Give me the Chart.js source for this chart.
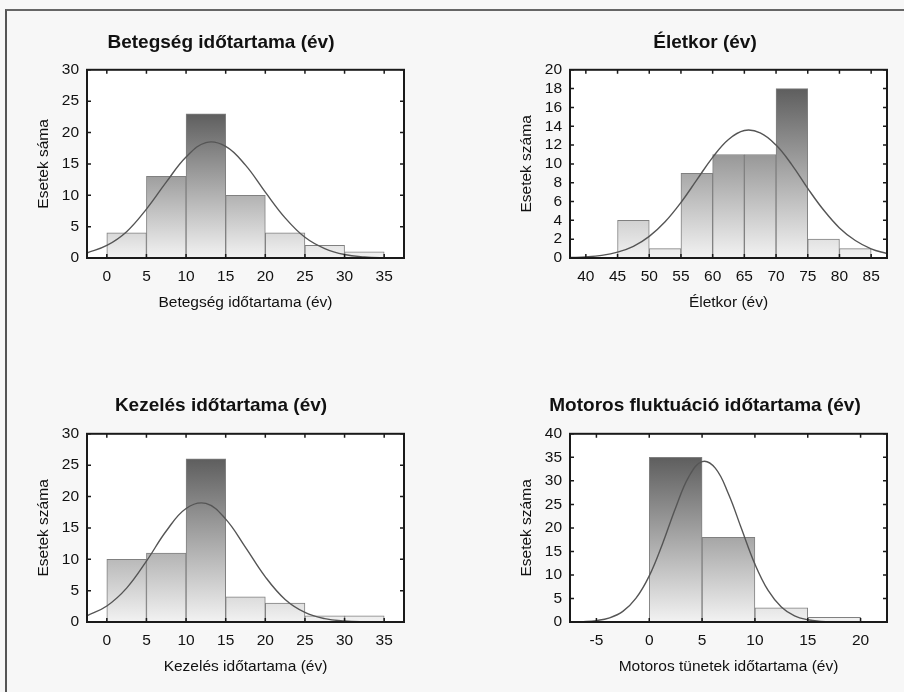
<!DOCTYPE html>
<html>
<head>
<meta charset="utf-8">
<script src="https://cdn.jsdelivr.net/npm/chart.js@4"></script>
<style>
  html, body { margin: 0; padding: 0; background: #f7f7f7; }
  #frame { position: absolute; left: 5px; top: 9px; width: 900px; height: 700px; border-top: 2px solid #666; border-left: 2px solid #555; }
  .cell { position: absolute; width: 452px; height: 346px; }
</style>
</head>
<body>
<div id="frame"></div>
<div class="cell" style="left:0;top:0"><canvas id="c1" width="452" height="346"></canvas></div>
<div class="cell" style="left:452px;top:0"><canvas id="c2" width="452" height="346"></canvas></div>
<div class="cell" style="left:0;top:346px"><canvas id="c3" width="452" height="346"></canvas></div>
<div class="cell" style="left:452px;top:346px"><canvas id="c4" width="452" height="346"></canvas></div>
<script>
// bin lower edges (width 5) and counts
const betegsegBins = [0, 5, 10, 15, 20, 25, 30];
const betegsegCounts = [4, 13, 23, 10, 4, 2, 1];
const betegsegCurveX = [-2.5, 0, 2.5, 5, 7.5, 10, 12.5, 15, 17.5, 20, 22.5, 25, 27.5, 30, 32.5, 35, 37.5];
const betegsegCurveY = [0.8, 2.0, 4.2, 7.8, 12.1, 16.1, 18.4, 17.8, 14.8, 10.5, 6.4, 3.3, 1.5, 0.55, 0.18, 0.05, 0.01];

const eletkorBins = [45, 50, 55, 60, 65, 70, 75, 80];
const eletkorCounts = [4, 1, 9, 11, 11, 18, 2, 1];
const eletkorCurveX = [37.5, 40, 42.5, 45, 47.5, 50, 52.5, 55, 57.5, 60, 62.5, 65, 67.5, 70, 72.5, 75, 77.5, 80, 82.5, 85, 87.5];
const eletkorCurveY = [0.05, 0.12, 0.28, 0.62, 1.24, 2.3, 3.85, 5.9, 8.3, 10.7, 12.6, 13.55, 13.3, 12.0, 9.9, 7.4, 5.1, 3.2, 1.86, 0.98, 0.47];

const kezelesBins = [0, 5, 10, 15, 20, 25, 30];
const kezelesCounts = [10, 11, 26, 4, 3, 1, 1];
const kezelesCurveX = [-2.5, 0, 2.5, 5, 7.5, 10, 12.5, 15, 17.5, 20, 22.5, 25, 27.5, 30, 32.5, 35, 37.5];
const kezelesCurveY = [0.99, 2.55, 5.4, 9.7, 14.5, 18.1, 18.9, 16.4, 11.9, 7.2, 3.6, 1.53, 0.54, 0.16, 0.04, 0.01, 0];

const motorosBins = [0, 5, 10, 15];
const motorosCounts = [35, 18, 3, 1];
const motorosCurveX = [-7.5, -6.25, -5, -3.75, -2.5, -1.25, 0, 1.25, 2.5, 3.75, 5, 6.25, 7.5, 8.75, 10, 11.25, 12.5, 13.75, 15, 16.25, 17.5, 18.75, 20, 21.25, 22.5];
const motorosCurveY = [0.02, 0.09, 0.3, 0.88, 2.25, 5.06, 9.8, 16.6, 24.3, 30.9, 34.1, 32.7, 27.2, 19.7, 12.3, 6.7, 3.2, 1.3, 0.47, 0.14, 0.04, 0.01, 0, 0, 0];

// tick labels
const durXTicks = [0, 5, 10, 15, 20, 25, 30, 35];
const ageXTicks = [40, 45, 50, 55, 60, 65, 70, 75, 80, 85];
const motXTicks = [-5, 0, 5, 10, 15, 20];
const y30Ticks = [0, 5, 10, 15, 20, 25, 30];
const y20Ticks = [0, 2, 4, 6, 8, 10, 12, 14, 16, 18, 20];
const y40Ticks = [0, 5, 10, 15, 20, 25, 30, 35, 40];

const FONT = "'Liberation Sans', Arial, sans-serif";
Chart.defaults.font.family = FONT;
Chart.defaults.color = '#111';

// white plot background, black frame and inward ticks on all four sides
const framePlugin = {
  id: 'frame',
  beforeDraw(chart) {
    const { ctx, chartArea: a } = chart;
    ctx.save();
    ctx.fillStyle = '#fff';
    ctx.fillRect(a.left, a.top, a.width, a.height);
    ctx.restore();
  },
  afterDatasetsDraw(chart) {
    const { ctx, chartArea: a, scales } = chart;
    ctx.save();
    ctx.strokeStyle = '#1a1a1a';
    ctx.lineWidth = 1.5;
    ctx.beginPath();
    scales.x.ticks.forEach((t) => {
      const px = scales.x.getPixelForValue(t.value);
      ctx.moveTo(px, a.bottom); ctx.lineTo(px, a.bottom - 4);
      ctx.moveTo(px, a.top); ctx.lineTo(px, a.top + 4);
    });
    scales.y.ticks.forEach((t) => {
      const py = scales.y.getPixelForValue(t.value);
      ctx.moveTo(a.left, py); ctx.lineTo(a.left + 4, py);
      ctx.moveTo(a.right, py); ctx.lineTo(a.right - 4, py);
    });
    ctx.stroke();
    ctx.lineWidth = 2;
    ctx.strokeRect(a.left, a.top, a.width, a.height);
    ctx.restore();
  }
};

function makeHist(id, cfg) {
  const maxCount = Math.max(...cfg.counts);
  const isLeft = cfg.side === 'left';
  const isTop = cfg.row === 'top';
  new Chart(document.getElementById(id), {
    type: 'bar',
    data: {
      datasets: [
        {
          type: 'line',
          data: cfg.curveX.map((x, i) => ({ x: x, y: cfg.curveY[i] })),
          borderColor: '#555',
          borderWidth: 1.4,
          pointRadius: 0,
          tension: 0.4,
          fill: false,
          order: 0
        },
        {
          type: 'bar',
          data: cfg.bins.map((b, i) => ({ x: b + 2.5, y: cfg.counts[i] })),
          barPercentage: 1,
          categoryPercentage: 1,
          borderColor: '#808080',
          borderWidth: 1,
          backgroundColor: (ctx) => {
            const chart = ctx.chart;
            if (!chart.chartArea) return '#ccc';
            const y = chart.scales.y;
            const g = chart.ctx.createLinearGradient(0, y.getPixelForValue(0), 0, y.getPixelForValue(maxCount));
            g.addColorStop(0, '#f2f2f2');
            g.addColorStop(1, '#5e5e5e');
            return g;
          },
          order: 1
        }
      ]
    },
    options: {
      responsive: false,
      animation: false,
      layout: {
        padding: {
          left: isLeft ? 38 : 71,
          right: isLeft ? 48 : 17,
          top: isTop ? 31 : 48,
          bottom: isTop ? 32 : 14
        }
      },
      plugins: {
        legend: { display: false },
        tooltip: { enabled: false },
        title: {
          display: true,
          text: cfg.title,
          font: { size: 19, weight: 'bold' },
          color: '#111',
          padding: { top: 0, bottom: isTop ? 16 : 17 }
        }
      },
      scales: {
        x: {
          type: 'linear',
          offset: false,
          min: cfg.xMin,
          max: cfg.xMax,
          grid: { display: false, drawTicks: false },
          border: { display: false },
          afterBuildTicks: (axis) => { axis.ticks = cfg.xTicks.map((v) => ({ value: v })); },
          afterFit: (axis) => { axis.height = 56; },
          ticks: { padding: 9, autoSkip: false, maxRotation: 0, font: { size: 15.5 }, color: '#111' },
          title: { display: true, text: cfg.xTitle, font: { size: 15.5 }, color: '#111', padding: { top: 0, bottom: 2 } }
        },
        y: {
          min: 0,
          max: cfg.yMax,
          grid: { display: false, drawTicks: false },
          border: { display: false },
          afterBuildTicks: (axis) => { axis.ticks = cfg.yTicks.map((v) => ({ value: v })); },
          afterFit: (axis) => { axis.width = isLeft ? 49 : 47; },
          ticks: { padding: 8, autoSkip: false, font: { size: 15.5 }, color: '#111' },
          title: { display: true, text: cfg.yTitle, font: { size: 15.5 }, color: '#111', padding: { top: isLeft ? -4 : -6, bottom: 0 } }
        }
      }
    },
    plugins: [framePlugin]
  });
}

makeHist('c1', {
  side: 'left', row: 'top',
  title: 'Betegség időtartama (év)', xTitle: 'Betegség időtartama (év)', yTitle: 'Esetek sáma',
  bins: betegsegBins, counts: betegsegCounts, curveX: betegsegCurveX, curveY: betegsegCurveY,
  xMin: -2.5, xMax: 37.5, xTicks: durXTicks, yMax: 30, yTicks: y30Ticks
});
makeHist('c2', {
  side: 'right', row: 'top',
  title: 'Életkor (év)', xTitle: 'Életkor (év)', yTitle: 'Esetek száma',
  bins: eletkorBins, counts: eletkorCounts, curveX: eletkorCurveX, curveY: eletkorCurveY,
  xMin: 37.5, xMax: 87.5, xTicks: ageXTicks, yMax: 20, yTicks: y20Ticks
});
makeHist('c3', {
  side: 'left', row: 'bottom',
  title: 'Kezelés időtartama (év)', xTitle: 'Kezelés időtartama (év)', yTitle: 'Esetek száma',
  bins: kezelesBins, counts: kezelesCounts, curveX: kezelesCurveX, curveY: kezelesCurveY,
  xMin: -2.5, xMax: 37.5, xTicks: durXTicks, yMax: 30, yTicks: y30Ticks
});
makeHist('c4', {
  side: 'right', row: 'bottom',
  title: 'Motoros fluktuáció időtartama (év)', xTitle: 'Motoros tünetek időtartama (év)', yTitle: 'Esetek száma',
  bins: motorosBins, counts: motorosCounts, curveX: motorosCurveX, curveY: motorosCurveY,
  xMin: -7.5, xMax: 22.5, xTicks: motXTicks, yMax: 40, yTicks: y40Ticks
});
</script>
</body>
</html>
